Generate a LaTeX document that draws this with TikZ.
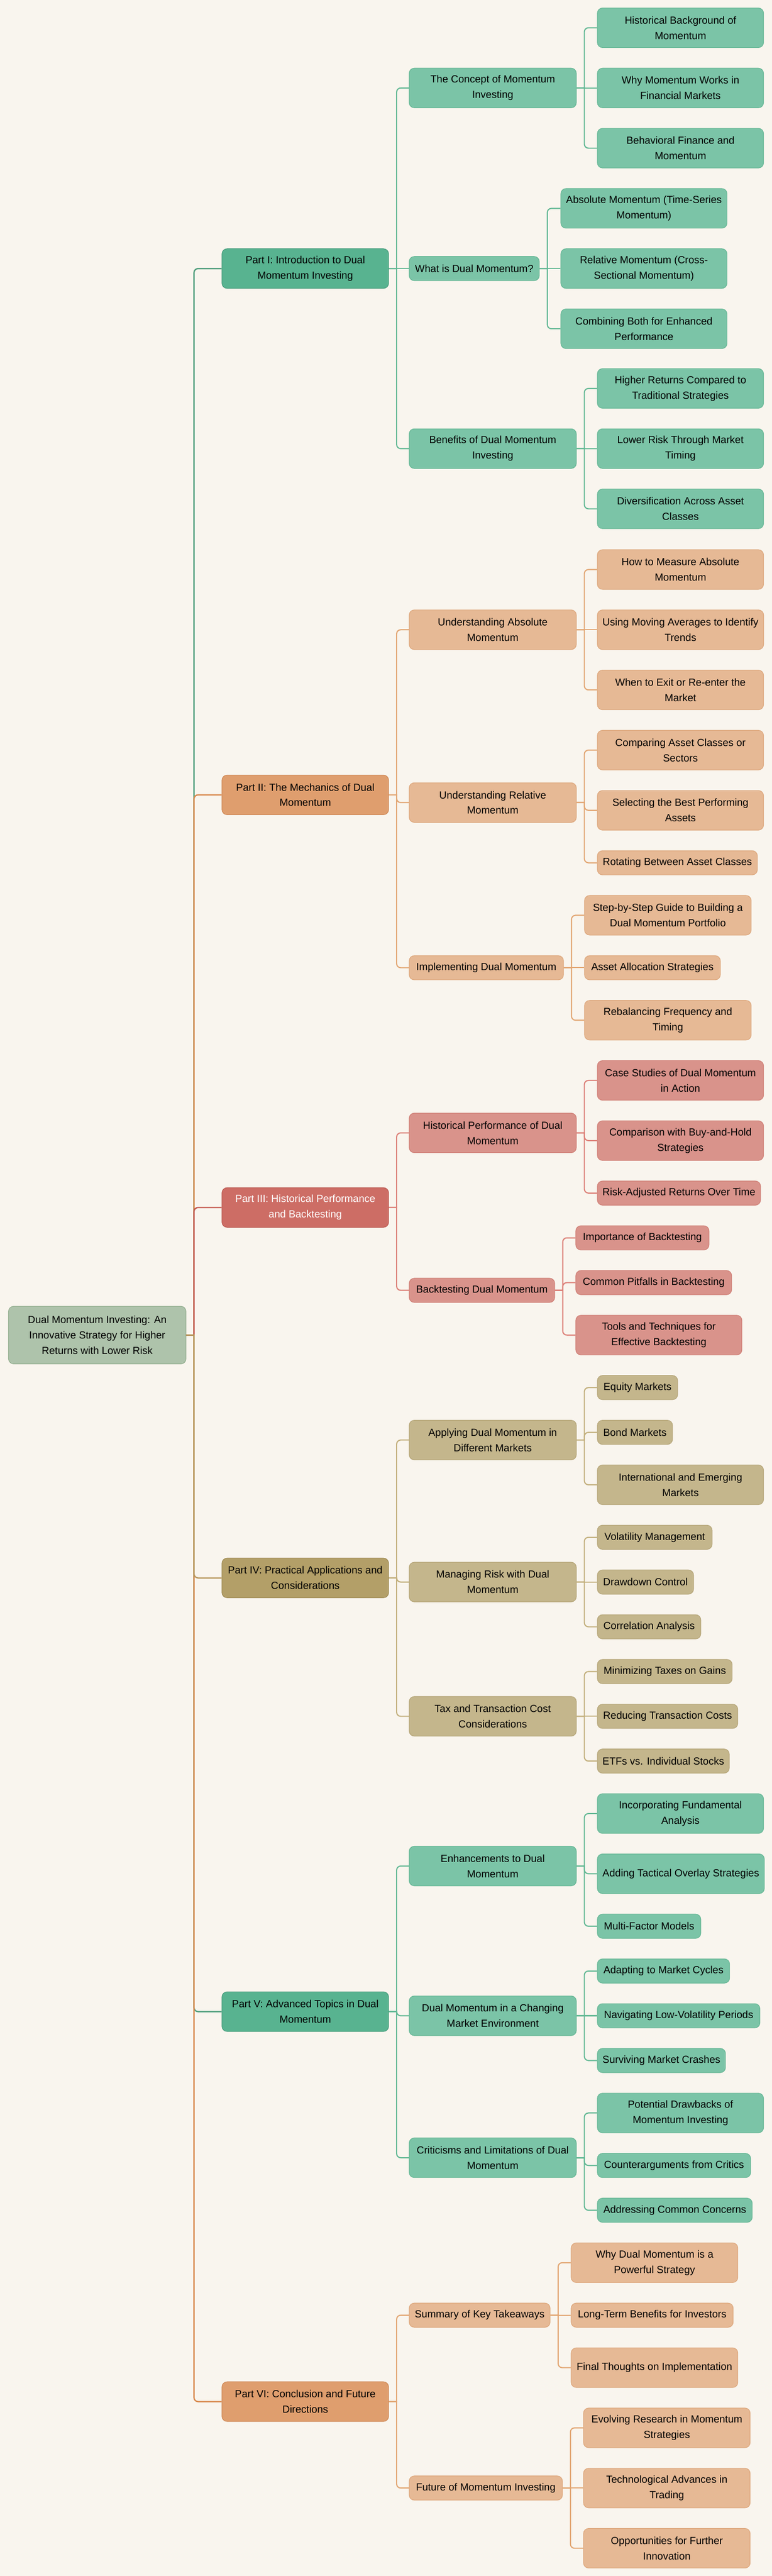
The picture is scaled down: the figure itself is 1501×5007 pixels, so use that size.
\documentclass[tikz,border=0pt]{standalone}
\usepackage{fontspec}
\setmainfont{Liberation Sans}
\definecolor{paper}{HTML}{F9F5EE}
\definecolor{rootfill}{HTML}{AEC3AB}
\definecolor{rootline}{HTML}{93AE8F}
\definecolor{tealpart}{HTML}{58B390}
\definecolor{tealpartline}{HTML}{4A9E7E}
\definecolor{tealitem}{HTML}{7BC4A7}
\definecolor{tealitemline}{HTML}{66B795}
\definecolor{teallink}{HTML}{62B894}
\definecolor{tealroot}{HTML}{4F9E7C}
\definecolor{peachpart}{HTML}{DF9E6E}
\definecolor{peachpartline}{HTML}{D08A58}
\definecolor{peachitem}{HTML}{E6B995}
\definecolor{peachitemline}{HTML}{DDA77C}
\definecolor{peachlink}{HTML}{E2A673}
\definecolor{peachroot}{HTML}{D8884C}
\definecolor{redpart}{HTML}{CD6D65}
\definecolor{redpartline}{HTML}{BD5D55}
\definecolor{reditem}{HTML}{D9938B}
\definecolor{reditemline}{HTML}{D07F76}
\definecolor{redlink}{HTML}{DC7F77}
\definecolor{redroot}{HTML}{C45A50}
\definecolor{khakipart}{HTML}{B39F68}
\definecolor{khakipartline}{HTML}{A08C55}
\definecolor{khakiitem}{HTML}{C4B68C}
\definecolor{khakiitemline}{HTML}{B6A679}
\definecolor{khakilink}{HTML}{C2AF7C}
\definecolor{khakiroot}{HTML}{B8975C}
\begin{document}
\begin{tikzpicture}[x=0.5pt,y=-0.5pt,
    box/.style={draw, line width=0.6pt, rounded corners=5pt, align=center, anchor=west,
        inner xsep=5pt, inner ysep=2pt, minimum height=23.5pt, font=\fontsize{10}{15}\selectfont},
    tall/.style={minimum height=38.5pt},
    wd/.style={minimum width=#1*0.5pt},
    rootbox/.style={box, fill=rootfill, draw=rootline, minimum height=56pt},
    partteal/.style={box, tall, wd=324, fill=tealpart, draw=tealpartline},
    partpeach/.style={box, tall, wd=324, fill=peachpart, draw=peachpartline},
    partred/.style={box, tall, wd=324, fill=redpart, draw=redpartline, text=white},
    partkhaki/.style={box, tall, wd=324, fill=khakipart, draw=khakipartline},
    teal/.style={box, fill=tealitem, draw=tealitemline},
    peach/.style={box, fill=peachitem, draw=peachitemline},
    red/.style={box, fill=reditem, draw=reditemline},
    khaki/.style={box, fill=khakiitem, draw=khakiitemline},
    link/.style={to path={-- ++(7.5pt,0) [rounded corners=4pt] |- (\tikztotarget)}},
    lteal/.style={draw=teallink, line width=1.1pt},
    lpeach/.style={draw=peachlink, line width=1.1pt},
    lred/.style={draw=redlink, line width=1.1pt},
    lkhaki/.style={draw=khakilink, line width=1.1pt}
]
    \fill[paper] (0,0) rectangle (1501,5007);

    \node[rootbox, wd=345] (root) at (16,2595) {Dual Momentum Investing: An\\Innovative Strategy for Higher\\Returns with Lower Risk};

    \node[partteal] (part1) at (431,522) {Part I: Introduction to Dual\\Momentum Investing};
    \node[teal, tall, wd=325] (concept) at (795,171) {The Concept of Momentum\\Investing};
    \node[teal, wd=253] (whatis) at (795,522) {What is Dual Momentum?};
    \node[teal, tall, wd=325] (benefits) at (795,872) {Benefits of Dual Momentum\\Investing};
    \node[teal, tall, wd=323] (history) at (1161,54) {Historical Background of\\Momentum};
    \node[teal, tall, wd=323] (whyworks) at (1161,171) {Why Momentum Works in\\Financial Markets};
    \node[teal, tall, wd=323] (behavioral) at (1161,288) {Behavioral Finance and\\Momentum};
    \node[teal, tall, wd=323] (absolute) at (1090,405) {Absolute Momentum (Time-Series\\Momentum)};
    \node[teal, tall, wd=323] (relative) at (1090,522) {Relative Momentum (Cross-\\Sectional Momentum)};
    \node[teal, tall, wd=323] (combining) at (1090,639) {Combining Both for Enhanced\\Performance};
    \node[teal, tall, wd=323] (higher) at (1161,755) {Higher Returns Compared to\\Traditional Strategies};
    \node[teal, tall, wd=323] (lower) at (1161,872) {Lower Risk Through Market\\Timing};
    \node[teal, tall, wd=323] (diversify) at (1161,989) {Diversification Across Asset\\Classes};

    \node[partpeach] (part2) at (431,1545) {Part II: The Mechanics of Dual\\Momentum};
    \node[peach, tall, wd=325] (underabs) at (795,1224) {Understanding Absolute\\Momentum};
    \node[peach, tall, wd=325] (underrel) at (795,1560) {Understanding Relative\\Momentum};
    \node[peach, wd=300] (implementing) at (795,1881) {Implementing Dual Momentum};
    \node[peach, tall, wd=323] (measure) at (1161,1107) {How to Measure Absolute\\Momentum};
    \node[peach, tall, wd=323] (movingavg) at (1161,1224) {Using Moving Averages to Identify\\Trends};
    \node[peach, tall, wd=323] (exit) at (1161,1341) {When to Exit or Re-enter the\\Market};
    \node[peach, tall, wd=323] (comparing) at (1161,1458) {Comparing Asset Classes or\\Sectors};
    \node[peach, tall, wd=323] (selecting) at (1161,1575) {Selecting the Best Performing\\Assets};
    \node[peach, wd=311] (rotating) at (1161,1677) {Rotating Between Asset Classes};
    \node[peach, tall, wd=324] (stepbystep) at (1136,1779) {Step-by-Step Guide to Building a\\Dual Momentum Portfolio};
    \node[peach, wd=264] (allocation) at (1136,1881) {Asset Allocation Strategies};
    \node[peach, tall, wd=324] (rebalancing) at (1136,1983) {Rebalancing Frequency and\\Timing};

    \node[partred] (part3) at (431,2347) {Part III: Historical Performance\\and Backtesting};
    \node[red, tall, wd=325] (histperf) at (795,2202) {Historical Performance of Dual\\Momentum};
    \node[red, wd=283] (backtesting) at (795,2508) {Backtesting Dual Momentum};
    \node[red, tall, wd=323] (casestudies) at (1161,2100) {Case Studies of Dual Momentum\\in Action};
    \node[red, tall, wd=323] (comparison) at (1161,2217) {Comparison with Buy-and-Hold\\Strategies};
    \node[red, wd=314] (riskadj) at (1161,2319) {Risk-Adjusted Returns Over Time};
    \node[red, wd=259] (importance) at (1119,2406) {Importance of Backtesting};
    \node[red, wd=303] (pitfalls) at (1119,2493) {Common Pitfalls in Backtesting};
    \node[red, tall, wd=323] (tools) at (1119,2595) {Tools and Techniques for\\Effective Backtesting};

    \node[partkhaki] (part4) at (431,3067) {Part IV: Practical Applications and\\Considerations};
    \node[khaki, tall, wd=325] (applying) at (795,2799) {Applying Dual Momentum in\\Different Markets};
    \node[khaki, tall, wd=325] (managing) at (795,3075) {Managing Risk with Dual\\Momentum};
    \node[khaki, tall, wd=325] (tax) at (795,3336) {Tax and Transaction Cost\\Considerations};
    \node[khaki, wd=156] (equity) at (1161,2697) {Equity Markets};
    \node[khaki, wd=146] (bond) at (1161,2784) {Bond Markets};
    \node[khaki, tall, wd=323] (international) at (1161,2886) {International and Emerging\\Markets};
    \node[khaki, wd=223] (volatility) at (1161,2988) {Volatility Management};
    \node[khaki, wd=187] (drawdown) at (1161,3075) {Drawdown Control};
    \node[khaki, wd=201] (correlation) at (1161,3162) {Correlation Analysis};
    \node[khaki, wd=262] (minimizing) at (1161,3249) {Minimizing Taxes on Gains};
    \node[khaki, wd=273] (reducing) at (1161,3336) {Reducing Transaction Costs};
    \node[khaki, wd=254] (etfs) at (1161,3423) {ETFs vs. Individual Stocks};

    \node[partteal] (part5) at (431,3910) {Part V: Advanced Topics in Dual\\Momentum};
    \node[teal, tall, wd=325] (enhancements) at (795,3627) {Enhancements to Dual\\Momentum};
    \node[teal, tall, wd=325] (changing) at (795,3918) {Dual Momentum in a Changing\\Market Environment};
    \node[teal, tall, wd=325] (criticisms) at (795,4194) {Criticisms and Limitations of Dual\\Momentum};
    \node[teal, tall, wd=323] (fundamental) at (1161,3525) {Incorporating Fundamental\\Analysis};
    \node[teal, tall, wd=323] (tactical) at (1161,3642) {Adding Tactical Overlay Strategies};
    \node[teal, wd=201] (multifactor) at (1161,3744) {Multi-Factor Models};
    \node[teal, wd=257] (cycles) at (1161,3831) {Adapting to Market Cycles};
    \node[teal, wd=316] (lowvol) at (1161,3918) {Navigating Low-Volatility Periods};
    \node[teal, wd=249] (crashes) at (1161,4005) {Surviving Market Crashes};
    \node[teal, tall, wd=323] (drawbacks) at (1161,4107) {Potential Drawbacks of\\Momentum Investing};
    \node[teal, wd=298] (counter) at (1161,4209) {Counterarguments from Critics};
    \node[teal, wd=301] (concerns) at (1161,4296) {Addressing Common Concerns};

    \node[partpeach] (part6) at (431,4668) {Part VI: Conclusion and Future\\Directions};
    \node[peach, wd=274] (summary) at (795,4500) {Summary of Key Takeaways};
    \node[peach, wd=298] (future) at (795,4836) {Future of Momentum Investing};
    \node[peach, tall, wd=324] (whydual) at (1110,4398) {Why Dual Momentum is a\\Powerful Strategy};
    \node[peach, wd=315] (longterm) at (1110,4500) {Long-Term Benefits for Investors};
    \node[peach, tall, wd=324] (finalthoughts) at (1110,4602) {Final Thoughts on Implementation};
    \node[peach, tall, wd=324] (evolving) at (1134,4719) {Evolving Research in Momentum\\Strategies};
    \node[peach, tall, wd=324] (technological) at (1134,4836) {Technological Advances in\\Trading};
    \node[peach, tall, wd=324] (opportunities) at (1134,4953) {Opportunities for Further\\Innovation};

    \draw[draw=tealroot, line width=1.25pt] (root.east) to[link] (part1.west);
    \draw[draw=peachroot, line width=1.25pt] (root.east) to[link] (part2.west);
    \draw[draw=redroot, line width=1.25pt] (root.east) to[link] (part3.west);
    \draw[draw=tealroot, line width=1.25pt] (root.east) to[link] (part5.west);
    \draw[draw=peachroot, line width=1.25pt] (root.east) to[link] (part6.west);
    \draw[draw=khakiroot, line width=1.25pt] (root.east) to[link] (part4.west);

    \draw[lteal] (part1.east) to[link] (concept.west);
    \draw[lteal] (part1.east) -- (whatis.west);
    \draw[lteal] (part1.east) to[link] (benefits.west);
    \draw[lteal] (concept.east) to[link] (history.west);
    \draw[lteal] (concept.east) -- (whyworks.west);
    \draw[lteal] (concept.east) to[link] (behavioral.west);
    \draw[lteal] (whatis.east) to[link] (absolute.west);
    \draw[lteal] (whatis.east) -- (relative.west);
    \draw[lteal] (whatis.east) to[link] (combining.west);
    \draw[lteal] (benefits.east) to[link] (higher.west);
    \draw[lteal] (benefits.east) -- (lower.west);
    \draw[lteal] (benefits.east) to[link] (diversify.west);

    \draw[lpeach] (part2.east) to[link] (underabs.west);
    \draw[lpeach] (part2.east) to[link] (underrel.west);
    \draw[lpeach] (part2.east) to[link] (implementing.west);
    \draw[lpeach] (underabs.east) to[link] (measure.west);
    \draw[lpeach] (underabs.east) -- (movingavg.west);
    \draw[lpeach] (underabs.east) to[link] (exit.west);
    \draw[lpeach] (underrel.east) to[link] (comparing.west);
    \draw[lpeach] (underrel.east) to[link] (selecting.west);
    \draw[lpeach] (underrel.east) to[link] (rotating.west);
    \draw[lpeach] (implementing.east) to[link] (stepbystep.west);
    \draw[lpeach] (implementing.east) -- (allocation.west);
    \draw[lpeach] (implementing.east) to[link] (rebalancing.west);

    \draw[lred] (part3.east) to[link] (histperf.west);
    \draw[lred] (part3.east) to[link] (backtesting.west);
    \draw[lred] (histperf.east) to[link] (casestudies.west);
    \draw[lred] (histperf.east) to[link] (comparison.west);
    \draw[lred] (histperf.east) to[link] (riskadj.west);
    \draw[lred] (backtesting.east) to[link] (importance.west);
    \draw[lred] (backtesting.east) to[link] (pitfalls.west);
    \draw[lred] (backtesting.east) to[link] (tools.west);

    \draw[lkhaki] (part4.east) to[link] (applying.west);
    \draw[lkhaki] (part4.east) to[link] (managing.west);
    \draw[lkhaki] (part4.east) to[link] (tax.west);
    \draw[lkhaki] (applying.east) to[link] (equity.west);
    \draw[lkhaki] (applying.east) to[link] (bond.west);
    \draw[lkhaki] (applying.east) to[link] (international.west);
    \draw[lkhaki] (managing.east) to[link] (volatility.west);
    \draw[lkhaki] (managing.east) -- (drawdown.west);
    \draw[lkhaki] (managing.east) to[link] (correlation.west);
    \draw[lkhaki] (tax.east) to[link] (minimizing.west);
    \draw[lkhaki] (tax.east) -- (reducing.west);
    \draw[lkhaki] (tax.east) to[link] (etfs.west);

    \draw[lteal] (part5.east) to[link] (enhancements.west);
    \draw[lteal] (part5.east) to[link] (changing.west);
    \draw[lteal] (part5.east) to[link] (criticisms.west);
    \draw[lteal] (enhancements.east) to[link] (fundamental.west);
    \draw[lteal] (enhancements.east) to[link] (tactical.west);
    \draw[lteal] (enhancements.east) to[link] (multifactor.west);
    \draw[lteal] (changing.east) to[link] (cycles.west);
    \draw[lteal] (changing.east) -- (lowvol.west);
    \draw[lteal] (changing.east) to[link] (crashes.west);
    \draw[lteal] (criticisms.east) to[link] (drawbacks.west);
    \draw[lteal] (criticisms.east) to[link] (counter.west);
    \draw[lteal] (criticisms.east) to[link] (concerns.west);

    \draw[lpeach] (part6.east) to[link] (summary.west);
    \draw[lpeach] (part6.east) to[link] (future.west);
    \draw[lpeach] (summary.east) to[link] (whydual.west);
    \draw[lpeach] (summary.east) -- (longterm.west);
    \draw[lpeach] (summary.east) to[link] (finalthoughts.west);
    \draw[lpeach] (future.east) to[link] (evolving.west);
    \draw[lpeach] (future.east) -- (technological.west);
    \draw[lpeach] (future.east) to[link] (opportunities.west);
\end{tikzpicture}
\end{document}
